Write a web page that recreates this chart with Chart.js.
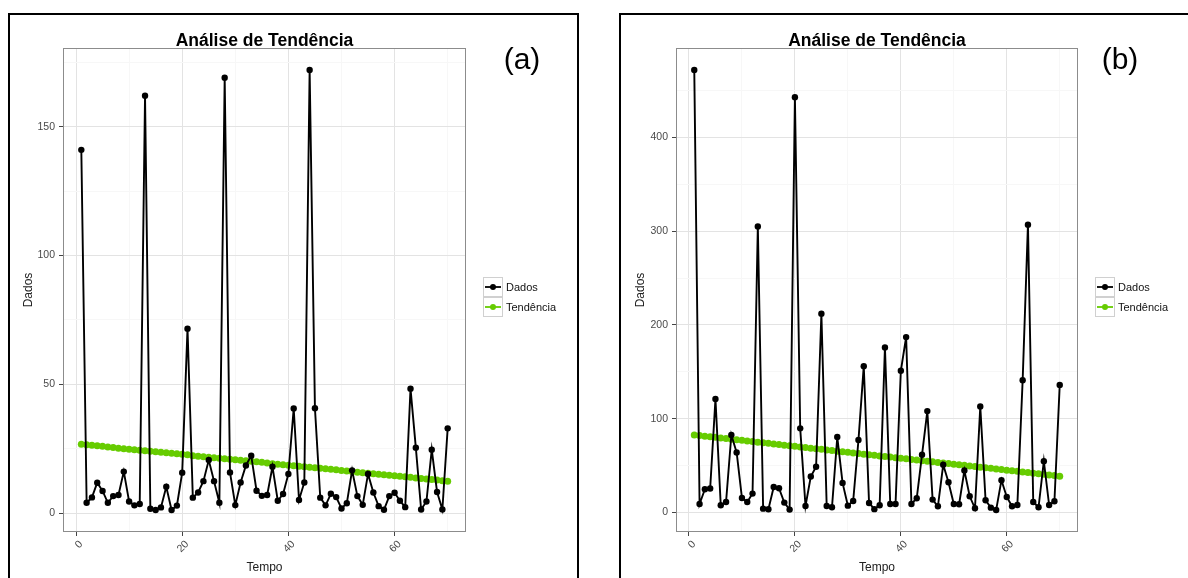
<!DOCTYPE html>
<html>
<head>
<meta charset="utf-8">
<title>Análise de Tendência</title>
<script src="https://cdn.jsdelivr.net/npm/chart.js@4/dist/chart.umd.min.js"></script>
<style>
  html, body { margin: 0; padding: 0; background: #fff; }
  body { position: relative; width: 1188px; height: 578px; overflow: hidden;
         font-family: "Liberation Sans", Arial, sans-serif; }
  .frame { position: absolute; border: 2px solid #000; box-sizing: border-box; }
  #frameA { left: 8px; top: 13px; width: 571px; height: 620px; }
  #frameB { left: 619px; top: 13px; width: 620px; height: 620px; }
  canvas { position: absolute; top: 0; }
  #chartA { left: 0; }
  #chartB { left: 600px; }
  .tag { position: absolute; top: 41px; width: 60px; text-align: center;
         font-size: 30px; line-height: 36px; color: #000; }
  #tagA { left: 492px; }
  #tagB { left: 1090px; }
</style>
</head>
<body>
<div class="frame" id="frameA"></div>
<div class="frame" id="frameB"></div>
<canvas id="chartA" width="600" height="578"></canvas>
<canvas id="chartB" width="588" height="578"></canvas>
<div class="tag" id="tagA">(a)</div>
<div class="tag" id="tagB">(b)</div>
<script>
// Time index 1..70
const tempo = [1,2,3,4,5,6,7,8,9,10,11,12,13,14,15,16,17,18,19,20,
  21,22,23,24,25,26,27,28,29,30,31,32,33,34,35,36,37,38,39,40,
  41,42,43,44,45,46,47,48,49,50,51,52,53,54,55,56,57,58,59,60,
  61,62,63,64,65,66,67,68,69,70];

// Panel (a): observed series and its trend
const dadosA = [141, 4.0, 6.1, 11.8, 8.6, 4.0, 6.6, 7.0, 16.1, 4.5,
  3.0, 3.5, 162, 1.7, 1.2, 2.2, 10.2, 1.2, 2.9, 15.7,
  71.6, 6.0, 8.0, 12.4, 20.6, 12.4, 4.0, 169, 15.8, 3.1,
  11.9, 18.5, 22.3, 8.7, 6.7, 7.0, 18.0, 4.8, 7.4, 15.2,
  40.6, 5.1, 11.9, 172, 40.7, 6.0, 3.0, 7.5, 6.2, 1.8,
  3.8, 16.6, 6.6, 3.2, 15.2, 8.0, 2.7, 1.3, 6.6, 7.9,
  4.8, 2.3, 48.3, 25.4, 1.4, 4.5, 24.6, 8.2, 1.4, 32.9];
const tendenciaA = [26.7, 26.5, 26.3, 26.1, 25.9, 25.7, 25.5, 25.2, 25.0, 24.8,
  24.6, 24.4, 24.2, 24.0, 23.8, 23.6, 23.4, 23.2, 23.0, 22.8,
  22.6, 22.3, 22.1, 21.9, 21.7, 21.5, 21.3, 21.1, 20.9, 20.7,
  20.5, 20.3, 20.1, 19.9, 19.7, 19.4, 19.2, 19.0, 18.8, 18.6,
  18.4, 18.2, 18.0, 17.8, 17.6, 17.4, 17.2, 17.0, 16.8, 16.5,
  16.3, 16.1, 15.9, 15.7, 15.5, 15.3, 15.1, 14.9, 14.7, 14.5,
  14.3, 14.1, 13.9, 13.6, 13.4, 13.2, 13.0, 12.8, 12.6, 12.4];

// Panel (b): observed series and its trend
const dadosB = [472, 8.9, 24.6, 25.4, 121, 7.5, 11.0, 82.5, 63.9, 15.3,
  11.0, 20.0, 305, 3.9, 3.2, 27.1, 25.7, 10.4, 2.9, 443,
  89.6, 6.8, 38.2, 48.6, 212, 6.8, 5.4, 80.3, 31.4, 7.1,
  12.1, 77.1, 156, 10.0, 3.4, 7.5, 176, 8.9, 8.9, 151,
  187, 8.9, 15.0, 61.4, 108, 13.6, 6.4, 50.7, 32.1, 8.9,
  8.6, 44.6, 17.1, 4.3, 113, 12.9, 5.0, 2.5, 34.3, 16.4,
  6.4, 7.8, 141, 307, 11.0, 5.4, 54.6, 7.8, 11.8, 136];
const tendenciaB = [82.5, 81.9, 81.2, 80.6, 80.0, 79.3, 78.7, 78.0, 77.4, 76.8,
  76.1, 75.5, 74.9, 74.2, 73.6, 73.0, 72.3, 71.7, 71.1, 70.4,
  69.8, 69.1, 68.5, 67.9, 67.2, 66.6, 66.0, 65.3, 64.7, 64.0,
  63.4, 62.8, 62.1, 61.5, 60.9, 60.2, 59.6, 59.0, 58.3, 57.7,
  57.1, 56.4, 55.8, 55.1, 54.5, 53.9, 53.2, 52.6, 52.0, 51.3,
  50.7, 50.1, 49.4, 48.8, 48.1, 47.5, 46.9, 46.2, 45.6, 45.0,
  44.3, 43.7, 43.1, 42.4, 41.8, 41.1, 40.5, 39.9, 39.2, 38.6];

// Tick positions (major = labelled, minor = unlabelled light grid)
const xMajor = [0, 20, 40, 60];
const xMinor = [10, 30, 50, 70];
const yMajorA = [0, 50, 100, 150];
const yMinorA = [25, 75, 125, 175];
const yMajorB = [0, 100, 200, 300, 400];
const yMinorB = [50, 150, 250, 350, 450];

const titulo = 'Análise de Tendência';
const nomes = ['Dados', 'Tendência'];
const cores = ['#000000', '#66CC00'];
const FONT = '"Liberation Sans", Arial, sans-serif';

function pairs(ys) { return ys.map((v, i) => ({ x: tempo[i], y: v })); }

// Panel decorations: border, title and legend
const panelDecor = {
  id: 'panelDecor',
  afterDatasetsDraw(chart, args, o) {
    const { ctx, chartArea: a } = chart;
    ctx.save();
    ctx.strokeStyle = '#8c8c8c';
    ctx.lineWidth = 1;
    ctx.strokeRect(Math.round(a.left) + 0.5, Math.round(a.top) + 0.5,
      Math.round(a.right - a.left) - 1, Math.round(a.bottom - a.top) - 1);
    ctx.restore();
  },
  afterDraw(chart, args, o) {
    const { ctx, chartArea: a } = chart;
    ctx.save();
    ctx.fillStyle = '#000';
    ctx.font = 'bold 17.5px ' + FONT;
    ctx.textAlign = 'center';
    ctx.textBaseline = 'alphabetic';
    ctx.fillText(titulo, (a.left + a.right) / 2, 45.5);

    // legend
    const x0 = o.legendX, y0 = o.legendY, k = 20;
    chart.data.datasets.forEach((ds, i) => {
      const y = y0 + i * k;
      ctx.fillStyle = '#fff';
      ctx.fillRect(x0, y, k, k);
      ctx.strokeStyle = '#d0d0d0';
      ctx.lineWidth = 1;
      ctx.strokeRect(x0 + 0.5, y + 0.5, k - 1, k - 1);
      ctx.strokeStyle = ds.borderColor;
      ctx.lineWidth = 1.8;
      ctx.beginPath();
      ctx.moveTo(x0 + 2, y + k / 2);
      ctx.lineTo(x0 + k - 2, y + k / 2);
      ctx.stroke();
      ctx.fillStyle = ds.borderColor;
      ctx.beginPath();
      ctx.arc(x0 + k / 2, y + k / 2, 3, 0, Math.PI * 2);
      ctx.fill();
      ctx.fillStyle = '#111';
      ctx.font = '11px ' + FONT;
      ctx.textAlign = 'left';
      ctx.textBaseline = 'middle';
      ctx.fillText(ds.label, x0 + k + 3, y + k / 2 + 0.5);
    });
    ctx.restore();
  }
};

function buildPanel(id, cfg) {
  const canvas = document.getElementById(id);
  const W = canvas.width, H = canvas.height;
  const isMajorX = v => xMajor.includes(v);
  const isMajorY = v => cfg.yMajor.includes(v);
  const xTicks = xMajor.concat(xMinor).sort((p, q) => p - q);
  const yTicks = cfg.yMajor.concat(cfg.yMinor).sort((p, q) => p - q);

  return new Chart(canvas, {
    type: 'line',
    data: {
      datasets: [
        { label: nomes[0], data: pairs(cfg.dados),
          borderColor: cores[0], backgroundColor: cores[0],
          borderWidth: 1.9, pointRadius: 3.2, pointHoverRadius: 3.2,
          pointBorderWidth: 0, tension: 0, fill: false },
        { label: nomes[1], data: pairs(cfg.tendencia),
          borderColor: cores[1], backgroundColor: cores[1],
          borderWidth: 1.9, pointRadius: 3.5, pointHoverRadius: 3.5,
          pointBorderWidth: 0, tension: 0, fill: false }
      ]
    },
    options: {
      responsive: false,
      animation: false,
      devicePixelRatio: 1,
      events: [],
      layout: { padding: { left: 0, top: cfg.area.top, right: W - cfg.area.right, bottom: 0 } },
      plugins: {
        legend: { display: false },
        tooltip: { enabled: false },
        panelDecor: { legendX: cfg.legendX, legendY: 277 }
      },
      scales: {
        x: {
          type: 'linear', min: -2.45, max: 73.45,
          afterBuildTicks: s => { s.ticks = xTicks.map(v => ({ value: v })); },
          afterFit: s => { s.height = H - cfg.area.bottom; },
          border: { display: false },
          grid: {
            color: c => (c.tick && isMajorX(c.tick.value)) ? '#e3e3e3' : '#f7f7f7',
            tickColor: c => (c.tick && isMajorX(c.tick.value)) ? '#444' : 'rgba(0,0,0,0)',
            tickLength: 4, lineWidth: 1
          },
          ticks: {
            autoSkip: false, minRotation: 45, maxRotation: 45,
            color: '#4a4a4a', font: { family: FONT, size: 10.5 }, padding: 2, labelOffset: 5,
            callback: v => isMajorX(v) ? String(v) : ''
          },
          title: { display: true, text: 'Tempo', color: '#222',
            font: { family: FONT, size: 12 }, padding: { top: 0, bottom: 3 } }
        },
        y: {
          type: 'linear', min: cfg.yMin, max: cfg.yMax,
          afterBuildTicks: s => { s.ticks = yTicks.map(v => ({ value: v })); },
          afterFit: s => { s.width = cfg.area.left; },
          border: { display: false },
          grid: {
            color: c => (c.tick && isMajorY(c.tick.value)) ? '#e3e3e3' : '#f7f7f7',
            tickColor: c => (c.tick && isMajorY(c.tick.value)) ? '#444' : 'rgba(0,0,0,0)',
            tickLength: 4, lineWidth: 1
          },
          ticks: {
            autoSkip: false, color: '#4a4a4a', font: { family: FONT, size: 10.5 }, padding: 4,
            callback: v => isMajorY(v) ? String(v) : ''
          },
          title: { display: true, text: 'Dados', color: '#222',
            font: { family: FONT, size: 12 }, padding: { top: cfg.yTitlePad, bottom: 0 } }
        }
      }
    },
    plugins: [panelDecor]
  });
}

buildPanel('chartA', {
  dados: dadosA, tendencia: tendenciaA,
  yMajor: yMajorA, yMinor: yMinorA, yMin: -7.34, yMax: 180.54,
  area: { left: 63, right: 466, top: 48, bottom: 532 },
  yTitlePad: 21, legendX: 483
});

buildPanel('chartB', {
  dados: dadosB, tendencia: tendenciaB,
  yMajor: yMajorB, yMinor: yMinorB, yMin: -21.0, yMax: 495.5,
  area: { left: 76, right: 478, top: 48, bottom: 532 },
  yTitlePad: 33, legendX: 495
});
</script>
</body>
</html>
